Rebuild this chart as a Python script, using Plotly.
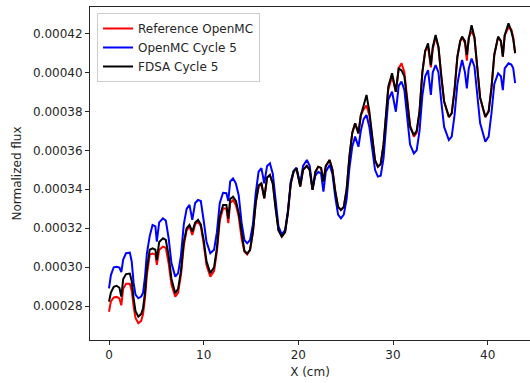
import plotly.graph_objects as go

x_cm = [0.0, 0.2, 0.5, 0.8, 1.1, 1.3, 1.5, 1.8, 2.2, 2.4, 2.6, 2.8, 3.1, 3.4, 3.6, 3.8,
        4.0, 4.3, 4.6, 4.9, 5.05, 5.3, 5.7, 6.0, 6.3, 6.6, 7.0, 7.3, 7.6, 7.9,
        8.2, 8.5, 8.8, 9.1, 9.4, 9.7, 10.0, 10.3, 10.7, 11.1, 11.4, 11.7, 12.05, 12.4,
        12.6, 12.8, 13.1, 13.4, 13.7, 14.0, 14.3, 14.6, 14.9, 15.2, 15.5, 15.8, 16.1,
        16.4, 16.7, 17.0, 17.3, 17.6, 17.9, 18.25, 18.6, 18.9, 19.2, 19.5, 19.8, 20.2,
        20.5, 20.9, 21.2, 21.5, 21.8, 22.1, 22.4, 22.65, 22.9, 23.3, 23.6, 23.9, 24.2,
        24.5, 24.8, 25.1, 25.4, 25.7, 26.0, 26.35, 26.6, 26.9, 27.2, 27.5, 27.8, 28.1,
        28.4, 28.7, 29.0, 29.3, 29.5, 29.9, 30.3, 30.6, 30.9, 31.2, 31.5, 31.8, 32.2,
        32.5, 32.8, 33.1, 33.4, 33.7, 34.0, 34.2, 34.5, 34.8, 35.1, 35.4, 35.9, 36.2,
        36.5, 36.8, 37.1, 37.3, 37.6, 37.8, 38.0, 38.3, 38.6, 38.9, 39.2, 39.75, 40.1,
        40.4, 40.7, 41.1, 41.4, 41.6, 41.8, 42.2, 42.5, 42.7, 42.9]

reference_openmc = [2.772, 2.825, 2.845, 2.848, 2.840, 2.805, 2.890, 2.915, 2.915, 2.880, 2.800, 2.740, 2.713, 2.725, 2.760, 2.840,
        2.960, 3.065, 3.070, 3.065, 3.012, 3.090, 3.106, 3.100, 3.020, 2.910, 2.849, 2.870, 2.960, 3.110,
        3.190, 3.208, 3.166, 3.220, 3.234, 3.210, 3.120, 3.010, 2.952, 2.980, 3.080, 3.240, 3.303, 3.300,
        3.226, 3.330, 3.345, 3.320, 3.260, 3.150, 3.080, 3.066, 3.090, 3.180, 3.330, 3.410, 3.430,
        3.354, 3.460, 3.473, 3.430, 3.300, 3.190, 3.157, 3.180, 3.280, 3.430, 3.490, 3.508, 3.414,
        3.500, 3.520, 3.500, 3.397, 3.490, 3.516, 3.510, 3.439, 3.520, 3.550, 3.500, 3.390, 3.310,
        3.294, 3.310, 3.400, 3.570, 3.690, 3.738, 3.687, 3.780, 3.810, 3.830, 3.780, 3.660, 3.550,
        3.516, 3.530, 3.630, 3.820, 3.910, 3.980, 3.900, 4.020, 4.046, 4.000, 3.850, 3.730, 3.670,
        3.690, 3.800, 4.000, 4.110, 4.130, 4.025, 4.120, 4.180, 4.130, 3.980, 3.850, 3.770, 3.790,
        3.910, 4.080, 4.160, 4.180, 4.150, 4.060, 4.180, 4.210, 4.180, 4.030, 3.870, 3.770, 3.800,
        3.920, 4.090, 4.180, 4.160, 4.080, 4.190, 4.230, 4.220, 4.180, 4.098]

openmc_cycle5 = [2.892, 2.960, 3.000, 3.003, 2.998, 2.975, 3.040, 3.072, 3.075, 3.030, 2.920, 2.860, 2.841, 2.850, 2.870, 2.950,
        3.070, 3.160, 3.217, 3.210, 3.131, 3.230, 3.251, 3.240, 3.150, 3.020, 2.952, 2.970, 3.060, 3.220,
        3.300, 3.320, 3.243, 3.330, 3.345, 3.340, 3.240, 3.130, 3.072, 3.090, 3.180, 3.330, 3.382, 3.380,
        3.340, 3.440, 3.456, 3.430, 3.370, 3.230, 3.140, 3.123, 3.140, 3.220, 3.380, 3.490, 3.508,
        3.431, 3.520, 3.533, 3.480, 3.340, 3.210, 3.169, 3.190, 3.290, 3.440, 3.495, 3.510, 3.430,
        3.520, 3.550, 3.520, 3.400, 3.470, 3.490, 3.480, 3.388, 3.490, 3.525, 3.480, 3.360, 3.270,
        3.251, 3.270, 3.350, 3.510, 3.620, 3.670, 3.618, 3.700, 3.760, 3.781, 3.720, 3.600, 3.500,
        3.465, 3.470, 3.560, 3.750, 3.860, 3.900, 3.798, 3.930, 3.952, 3.910, 3.760, 3.630, 3.584,
        3.600, 3.700, 3.880, 3.980, 4.011, 3.884, 4.000, 4.037, 4.000, 3.850, 3.720, 3.653, 3.670,
        3.780, 3.940, 4.020, 4.063, 4.000, 3.918, 4.020, 4.071, 4.030, 3.890, 3.740, 3.644, 3.670,
        3.790, 3.940, 3.995, 3.980, 3.909, 4.020, 4.046, 4.040, 4.020, 3.944]

fdsa_cycle5 = [2.824, 2.870, 2.900, 2.905, 2.895, 2.850, 2.940, 2.965, 2.968, 2.930, 2.840, 2.775, 2.747, 2.760, 2.790, 2.870,
        2.990, 3.090, 3.097, 3.090, 3.037, 3.130, 3.149, 3.140, 3.060, 2.940, 2.867, 2.890, 2.980, 3.130,
        3.200, 3.217, 3.183, 3.230, 3.243, 3.220, 3.140, 3.030, 2.970, 3.000, 3.100, 3.260, 3.320, 3.320,
        3.250, 3.350, 3.362, 3.340, 3.280, 3.170, 3.085, 3.070, 3.090, 3.180, 3.330, 3.420, 3.431,
        3.354, 3.460, 3.473, 3.430, 3.300, 3.190, 3.157, 3.180, 3.280, 3.430, 3.490, 3.508, 3.414,
        3.500, 3.520, 3.500, 3.397, 3.490, 3.516, 3.510, 3.439, 3.520, 3.550, 3.500, 3.390, 3.310,
        3.294, 3.310, 3.400, 3.570, 3.690, 3.738, 3.687, 3.780, 3.830, 3.884, 3.800, 3.670, 3.550,
        3.516, 3.530, 3.630, 3.810, 3.926, 3.995, 3.900, 4.020, 4.010, 3.980, 3.840, 3.720, 3.678,
        3.700, 3.800, 4.000, 4.110, 4.149, 4.037, 4.130, 4.191, 4.130, 3.980, 3.850, 3.772, 3.790,
        3.910, 4.080, 4.160, 4.183, 4.160, 4.089, 4.170, 4.242, 4.180, 4.030, 3.870, 3.772, 3.800,
        3.920, 4.090, 4.183, 4.160, 4.080, 4.190, 4.251, 4.210, 4.170, 4.098]

series = [
    ("Reference OpenMC", reference_openmc, "red"),
    ("OpenMC Cycle 5", openmc_cycle5, "blue"),
    ("FDSA Cycle 5", fdsa_cycle5, "black"),
]

fig = go.Figure()
for name, vals, color in series:
    fig.add_trace(go.Scatter(
        x=x_cm, y=[v * 1e-4 for v in vals], mode="lines", name=name,
        line=dict(color=color, width=2),
    ))

axis_font = dict(family="DejaVu Sans", size=12, color="#262626")
fig.update_layout(
    width=530, height=383,
    margin=dict(l=90, r=0, t=7, b=43),
    paper_bgcolor="white", plot_bgcolor="white",
    font=axis_font,
    showlegend=True,
    legend=dict(
        x=0.016, y=0.982, xanchor="left", yanchor="top",
        bordercolor="#cccccc", borderwidth=1, bgcolor="rgba(255,255,255,0.8)",
        font=dict(family="DejaVu Sans", size=12, color="#262626"),
        tracegroupgap=0,
    ),
    xaxis=dict(
        range=[-2.007, 44.47], tick0=0, dtick=10,
        showline=True, linecolor="#262626", linewidth=1, mirror=True,
        ticks="outside", ticklen=4, tickcolor="#262626", tickwidth=1,
        showgrid=False, zeroline=False,
        title=dict(text="X (cm)", font=axis_font, standoff=6),
    ),
    yaxis=dict(
        range=[0.0002627, 0.0004335], tick0=0, dtick=0.00002, tickformat=".5f",
        showline=True, linecolor="#262626", linewidth=1,
        ticks="outside", ticklen=4, tickcolor="#262626", tickwidth=1,
        showgrid=False, zeroline=False,
        title=dict(text="Normalized flux", font=axis_font, standoff=8),
    ),
)

fig.write_html("out.html")
